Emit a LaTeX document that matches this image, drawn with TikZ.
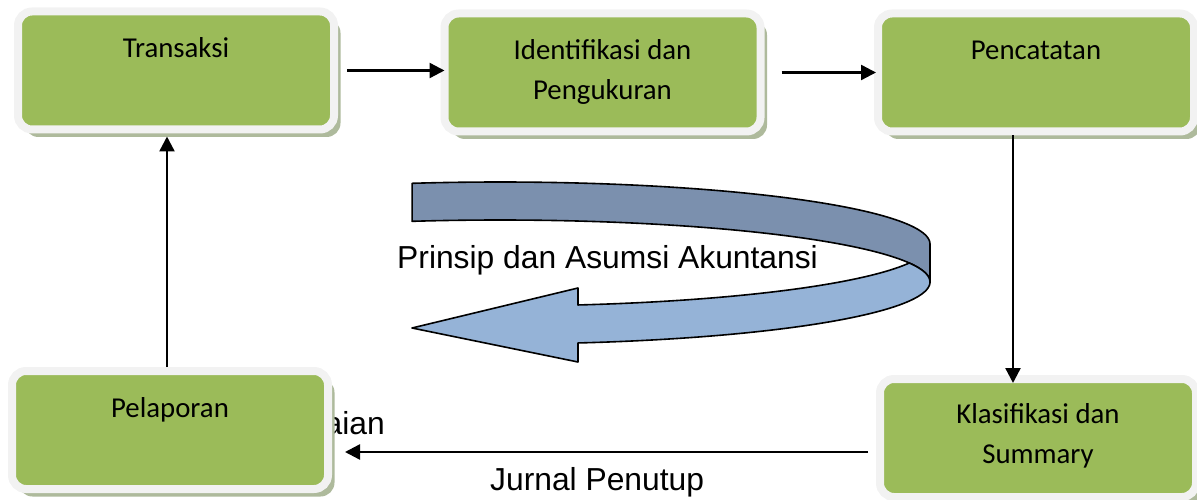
\documentclass[tikz,border=0pt]{standalone}
\usepackage{fontspec}
\newfontfamily\boxfont{Carlito}
\newfontfamily\labfont{Liberation Sans}
\usetikzlibrary{arrows.meta,shadows,calc}
\definecolor{boxgreen}{HTML}{9BBB59}
\definecolor{boxrim}{HTML}{F2F2F2}
\definecolor{boxshade}{HTML}{AEBA9C}
\definecolor{ribbonback}{HTML}{7B90AE}
\definecolor{ribbonfront}{HTML}{95B3D7}

\begin{document}
\begin{tikzpicture}[x=1pt,y=-1pt,
  stage/.style={draw=boxrim, line width=8pt, fill=boxgreen, rounded corners=14pt,
    minimum width=316pt, minimum height=118pt, inner sep=0pt, outer sep=0pt,
    drop shadow={shadow xshift=6.5pt, shadow yshift=-7.5pt, fill=boxshade, opacity=1}},
  stagetext/.style={font=\boxfont\fontsize{28.8pt}{40pt}\selectfont, align=center,
    anchor=base, inner sep=0pt},
  lab/.style={font=\labfont\fontsize{31.8pt}{38pt}\selectfont, inner sep=0pt},
  link/.style={draw=black, line width=2.4pt, -{Triangle[length=15pt,width=15pt]}},
  ribbon/.style={draw=black, line width=1.6pt, line join=round}]

\useasboundingbox (0,0) rectangle (1197,500);

% label partly hidden behind the reporting box
\node[lab, anchor=base east] (hidden) at (385,434) {aian};

% process stages
\node[stage] (t)  at (176,70.5)  {};
\node[stage] (i)  at (602.5,72.5) {};
\node[stage] (p)  at (1036,72.5) {};
\node[stage] (pl) at (170,430)   {};
\node[stage] (k)  at (1038,438)  {};

% captions (base anchor of a two-line caption sits on its last line)
\node[stagetext] (tt)  at ($(t.north)+(0,46.5)$)  {Transaksi};
\node[stagetext] (it)  at ($(i.north)+(0,86.5)$)  {Identifikasi dan\\Pengukuran};
\node[stagetext] (pt)  at ($(p.north)+(0,46.5)$)  {Pencatatan};
\node[stagetext] (plt) at ($(pl.north)+(0,46.5)$) {Pelaporan};
\node[stagetext] (kt)  at ($(k.north)+(0,84.5)$)  {Klasifikasi dan\\Summary};

% connectors of the cycle
\draw[link, shorten <=13pt] (t.east) -- (t.east -| i.west);
\draw[link, shorten <=21pt, shorten >=2pt] (i.east) -- (i.east -| p.west);
\draw[link, shorten <=4pt, shorten >=-4pt] ([xshift=-23pt]p.south) -- ([xshift=-23pt]p.south |- k.north);
\draw[link, shorten <=12pt, shorten >=17pt] ([yshift=-14pt]k.west) -- ([yshift=-14pt]k.west -| pl.east);
\draw[link, shorten <=4pt, shorten >=7pt] ([xshift=-3pt]pl.north) -- ([xshift=-3pt]pl.north |- t.south);

% curved ribbon arrow: back (inner) face
\filldraw[ribbon, fill=ribbonback]
  plot[domain=101.8:0, samples=80] ({500+430*cos(\x)},{244-62*sin(\x)})
  -- plot[domain=0:101.8, samples=80] ({500+430*cos(\x)},{282-62*sin(\x)})
  -- cycle;
% front (outer) face with the arrow head
\filldraw[ribbon, fill=ribbonfront]
  plot[domain=-17.8:-79.55, samples=80] ({500+430*cos(\x)},{244-62*sin(\x)})
  -- (578,288) -- (412,328) -- (578,362)
  -- plot[domain=-79.55:17.8, samples=100] ({500+430*cos(\x)},{282-62*sin(\x)})
  -- cycle;

\node[lab, anchor=base west] (prinsip) at (397,268) {Prinsip dan Asumsi Akuntansi};
\node[lab, anchor=base west] (penutup) at (490,490) {Jurnal Penutup};

\end{tikzpicture}
\end{document}
